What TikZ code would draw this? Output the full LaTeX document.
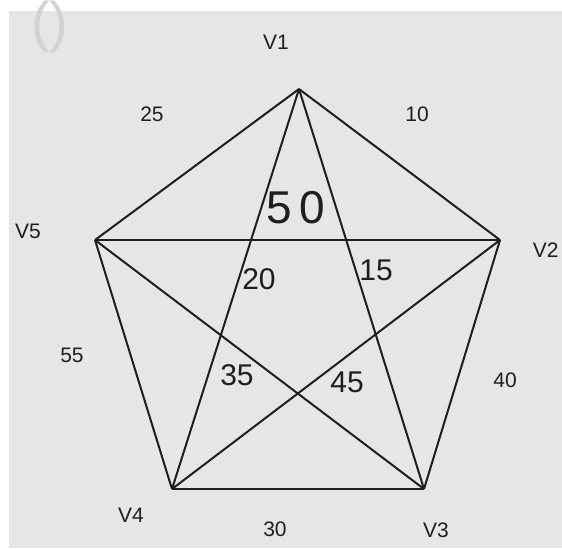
\documentclass[tikz,border=0pt]{standalone}
\usepackage{fontspec}
\setmainfont{Liberation Sans}
\definecolor{grbg}   {RGB}{230,230,230}
\definecolor{grink}  {RGB}{30,30,30}
\definecolor{grfaint}{RGB}{210,210,210}
\usetikzlibrary{positioning}
\tikzset{
  vlab/.style={font=\fontsize{10.5}{12}\selectfont,text=grink,inner sep=1pt},
  wlab/.style={font=\fontsize{10.5}{12}\selectfont,text=grink,inner sep=1pt},
  ilab/.style={font=\fontsize{#1}{#1}\selectfont,text=grink,inner sep=1pt},
  ilab/.default=15,
  edge/.style={draw=grink,line width=1pt,line join=round},
}

\begin{document}
\begin{tikzpicture}[x={(0.5pt,0)},y={(0,-0.5pt)}]
  \useasboundingbox (0,0) rectangle (562,548);
  \fill[white] (0,0) rectangle (562,548);
  \fill[grbg] (9,11) rectangle (562,548);
  \node[font=\fontsize{28}{28}\selectfont,text=grfaint,inner sep=0pt] (mark) at (50,27) {()};

  % vertices
  \coordinate (v1) at (299,89);
  \coordinate (v2) at (500,240);
  \coordinate (v3) at (424,489);
  \coordinate (v4) at (172,489);
  \coordinate (v5) at (95,240);

  % outer ring and diagonals
  \foreach \a/\b in {v1/v2,v2/v3,v3/v4,v4/v5,v5/v1,
                     v1/v3,v1/v4,v2/v4,v2/v5,v3/v5}
    \draw[edge] (\a) -- (\b);

  % vertex names
  \node[vlab] (n1) at (276,42)  {V1};
  \node[vlab,anchor=east] (n2) at (561,250) {V2};
  \node[vlab] (n3) at (436,530) {V3};
  \node[vlab] (n4) at (131,515) {V4};
  \node[vlab] (n5) at (28,231)  {V5};

  % outer weights
  \node[wlab] (w25) at (152,114) {25};
  \node[wlab] (w10) at (417,114) {10};
  \node[wlab] (w55) at (72,355)  {55};
  \node[wlab] (w40) at (505,380) {40};
  \node[wlab] (w30) at (275,529) {30};

  % inner weights
  \node[ilab=23] (w50) at (296,208) {5\hspace{4pt}0};
  \node[ilab] (w20) at (259,279) {20};
  \node[ilab] (w15) at (376,270) {15};
  \node[ilab] (w35) at (237,375) {35};
  \node[ilab] (w45) at (347,382) {45};
\end{tikzpicture}
\end{document}
